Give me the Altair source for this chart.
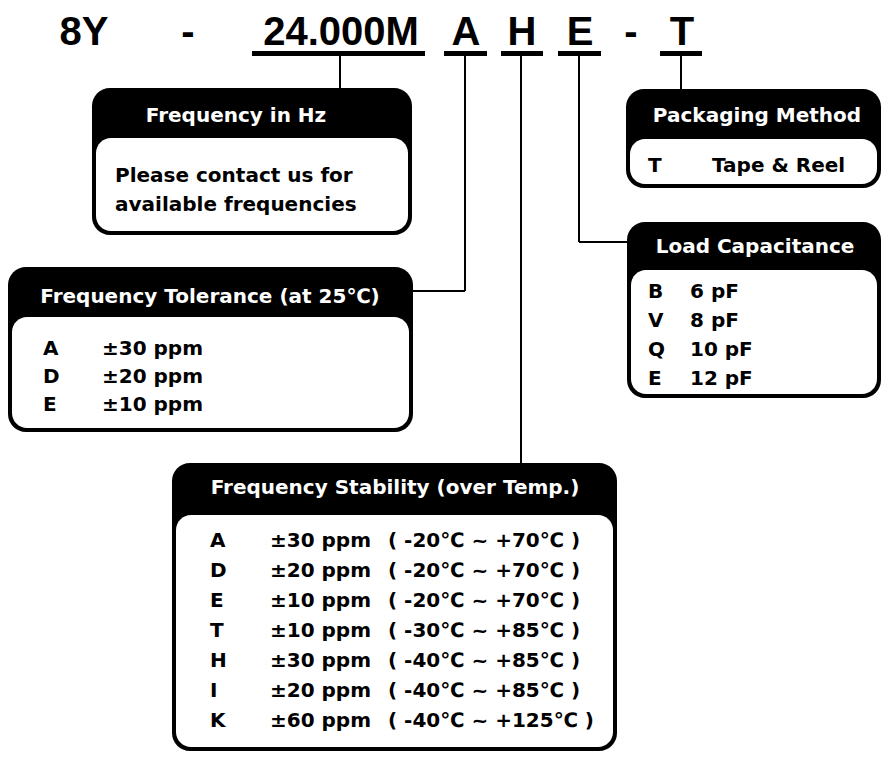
import altair as alt
import pandas as pd

# ---- content -------------------------------------------------------------
part_codes = ["8Y", "-", "24.000M", "A", "H", "E", "-", "T"]

titles = ["Frequency in Hz", "Frequency Tolerance (at 25℃)", "Packaging Method",
          "Load Capacitance", "Frequency Stability (over Temp.)"]

hz_lines = ["Please contact us for", "available frequencies"]

tol_codes = ["A", "D", "E"]
tol_values = ["±30 ppm", "±20 ppm", "±10 ppm"]

pack_codes = ["T"]
pack_values = ["Tape & Reel"]

load_codes = ["B", "V", "Q", "E"]
load_values = ["6 pF", "8 pF", "10 pF", "12 pF"]

stab_codes = ["A", "D", "E", "T", "H", "I", "K"]
stab_ppm = ["±30 ppm", "±20 ppm", "±10 ppm", "±10 ppm", "±30 ppm", "±20 ppm", "±60 ppm"]
stab_range = ["( -20℃ ~ +70℃ )", "( -20℃ ~ +70℃ )", "( -20℃ ~ +70℃ )", "( -30℃ ~ +85℃ )",
              "( -40℃ ~ +85℃ )", "( -40℃ ~ +85℃ )", "( -40℃ ~ +125℃ )"]

# ---- layout (page pixel coordinates) ---------------------------------------
code_x = [84, 188, 341, 466, 522, 580, 631, 682]
code_base = 44.5

underline_x1 = [252, 444, 501, 558, 660]
underline_x2 = [425, 487, 543, 601, 702]
underline_y = 53.5

# connector segments: x1, y1, x2, y2
seg_x1 = [340, 465, 465, 521, 579, 579, 681]
seg_y1 = [56, 56, 291, 56, 56, 242, 56]
seg_x2 = [340, 465, 413, 521, 579, 627, 681]
seg_y2 = [89, 291, 291, 463, 242, 242, 89]

# boxes: left, right, top, header bottom, bottom
box_l = [92, 8, 626, 627, 172]
box_r = [412, 413, 881, 881, 617]
box_t = [88, 267, 89, 222, 463]
box_h = [138, 317, 139, 270, 515]
box_b = [235, 432, 188, 398, 751]
title_cx = [236, 210, 757, 755, 395]
title_base = [122, 303, 122, 253, 494]

BORDER = 4

XS = alt.Scale(domain=[8, 882], nice=False, zero=False)
YS = alt.Scale(domain=[8, 752], reverse=True, nice=False, zero=False)

BOX_FONT = "DejaVu Sans"
TOP_FONT = "Liberation Sans"


def X(f):
    return alt.X(f + ":Q", scale=XS, axis=None)


def Y(f):
    return alt.Y(f + ":Q", scale=YS, axis=None)


layers = []

# outer black boxes
outer = pd.DataFrame({"x1": box_l, "x2": box_r, "y1": box_t, "y2": box_b})
layers.append(alt.Chart(outer).mark_rect(color="black", cornerRadius=18).encode(
    x=X("x1"), x2="x2", y=Y("y1"), y2="y2"))

# inner white bodies
inner = pd.DataFrame({"x1": [v + BORDER for v in box_l], "x2": [v - BORDER for v in box_r],
                      "y1": box_h, "y2": [v - BORDER for v in box_b]})
layers.append(alt.Chart(inner).mark_rect(color="white", cornerRadius=15).encode(
    x=X("x1"), x2="x2", y=Y("y1"), y2="y2"))

# connectors
segs = pd.DataFrame({"x1": seg_x1, "y1": seg_y1, "x2": seg_x2, "y2": seg_y2})
layers.append(alt.Chart(segs).mark_rule(color="black", strokeWidth=2).encode(
    x=X("x1"), x2="x2", y=Y("y1"), y2="y2"))

# underlines
ul = pd.DataFrame({"x1": underline_x1, "x2": underline_x2, "y": [underline_y] * len(underline_x1)})
layers.append(alt.Chart(ul).mark_rule(color="black", strokeWidth=5).encode(
    x=X("x1"), x2="x2", y=Y("y")))

# part number
top = pd.DataFrame({"x": code_x, "y": [code_base] * len(part_codes), "t": part_codes})
layers.append(alt.Chart(top).mark_text(
    align="center", baseline="alphabetic", font=TOP_FONT, fontSize=40, fontWeight="bold",
    color="black").encode(x=X("x"), y=Y("y"), text="t:N"))

# titles
tt = pd.DataFrame({"x": title_cx, "y": title_base, "t": titles})
layers.append(alt.Chart(tt).mark_text(
    align="center", baseline="alphabetic", font=BOX_FONT, fontSize=20, fontWeight="bold",
    color="white").encode(x=X("x"), y=Y("y"), text="t:N"))

# body texts
body_x, body_y, body_t = [], [], []


def add_col(texts, x, y0, step):
    for i, t in enumerate(texts):
        body_x.append(x)
        body_y.append(y0 + i * step)
        body_t.append(t)


add_col(hz_lines, 115, 182, 29)
add_col(tol_codes, 43, 355, 28)
add_col(tol_values, 102, 355, 28)
add_col(pack_codes, 648, 172, 29)
add_col(pack_values, 712, 172, 29)
add_col(load_codes, 648, 298, 29)
add_col(load_values, 690, 298, 29)
add_col(stab_codes, 210, 547, 30)
add_col(stab_ppm, 270, 547, 30)
add_col(stab_range, 388, 547, 30)

bt = pd.DataFrame({"x": body_x, "y": body_y, "t": body_t})
layers.append(alt.Chart(bt).mark_text(
    align="left", baseline="alphabetic", font=BOX_FONT, fontSize=20, fontWeight="bold",
    color="black").encode(x=X("x"), y=Y("y"), text="t:N"))

chart = alt.layer(*layers).properties(
    width=874, height=744, padding=0, autosize="none", background="white"
).configure_view(strokeWidth=0)

chart.save("out.html", embed_options={"renderer": "svg", "actions": False})
